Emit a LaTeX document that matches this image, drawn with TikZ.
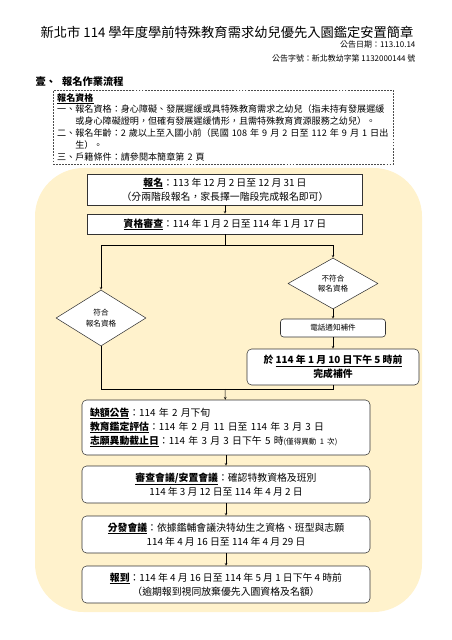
\documentclass[tikz,border=0pt]{standalone}
\usepackage{fontspec}
\setmainfont{Noto Sans CJK TC}
\usepackage{tikz}
\usetikzlibrary{shapes.geometric, arrows.meta, positioning, calc}
\definecolor{flowbg}{RGB}{255,242,204}
\newcommand{\pxu}{0.0464cm}
\newcommand{\keyterm}[1]{\underline{\textbf{#1}}}
\tikzstyle{flatbox} = [rectangle, draw=black!80, fill=white, line width=0.7pt, align=center, inner sep=0pt, font=\fontsize{13}{18.5}\selectfont]
\tikzstyle{roundbox} = [flatbox, rounded corners=6pt]
\tikzstyle{decision} = [diamond, draw=black!80, fill=white, line width=0.7pt, aspect=1.7, inner sep=0pt, align=center, font=\fontsize{10}{14}\selectfont]
\tikzstyle{notebox} = [rectangle, draw=black!70, dash pattern=on 2.5pt off 1.5pt, line width=0.6pt, align=left, inner xsep=4*\pxu, inner ysep=3*\pxu, font=\fontsize{12}{15.6}\selectfont]
\tikzstyle{arrow} = [line width=0.6pt,->,>=stealth]
\tikzstyle{link} = [line width=0.6pt]

\begin{document}
\begin{tikzpicture}[x=\pxu, y=-\pxu]
    \useasboundingbox (0,0) rectangle (452,640);
    % Header
    \node (title) [font=\fontsize{17.5}{20}\selectfont] at (227,32) {新北市 114 學年度學前特殊教育需求幼兒優先入園鑑定安置簡章};
    \node (date) [anchor=east, font=\fontsize{10.5}{12}\selectfont] at (418,45) {公告日期：113.10.14};
    \node (docno) [anchor=east, font=\fontsize{10.5}{12}\selectfont] at (418,58) {公告字號：新北教幼字第 1132000144 號};
    \node (section) [anchor=west, font=\fontsize{13.5}{16}\selectfont\bfseries] at (33,82) {壹、\hspace{8pt}報名作業流程};
    \node (req) [notebox, anchor=north west, text width=332*\pxu] at (53,90) {%
        \keyterm{報名資格}\\
        一、報名資格：身心障礙、發展遲緩或具特殊教育需求之幼兒（指未持有發展遲緩\\
        \hspace*{2em}或身心障礙證明，但確有發展遲緩情形，且需特殊教育資源服務之幼兒）。\\
        二、報名年齡：2 歲以上至入國小前（民國 108 年 9 月 2 日至 112 年 9 月 1 日出\\
        \hspace*{2em}生）。\\
        三、戶籍條件：請參閱本簡章第 2 頁};

    % Background
    \fill [flowbg, rounded corners=64pt] (35,168) rectangle (422,612);

    % Nodes
    \node (signup) [flatbox, minimum width=275*\pxu, minimum height=31*\pxu] at (225,189.5) {\keyterm{報名}：113 年 12 月 2 日至 12 月 31 日\\（分兩階段報名，家長擇一階段完成報名即可）};
    \node (review) [flatbox, minimum width=275*\pxu, minimum height=20*\pxu] at (225,224) {\keyterm{資格審查}：114 年 1 月 2 日至 114 年 1 月 17 日};
    \coordinate (split) at (225,245);
    \node (notok) [decision, minimum width=90*\pxu, minimum height=51*\pxu] at (333,283.5) {不符合\\報名資格};
    \node (ok) [decision, minimum width=90*\pxu, minimum height=56*\pxu] at (101,318) {符合\\報名資格};
    \node (phone) [roundbox, rounded corners=4pt, minimum width=105*\pxu, minimum height=18*\pxu, font=\fontsize{10}{12}\selectfont] at (333,328) {電話通知補件};
    \node (supply) [roundbox, minimum width=172*\pxu, minimum height=36*\pxu, font=\fontsize{13}{18.5}\selectfont\bfseries] at (333,367) {於 \underline{114 年 1 月 10 日下午 5 時前}\\完成補件};
    \coordinate (merge) at (225,389);
    \node (vacancy) [roundbox, minimum width=288*\pxu, minimum height=55*\pxu, text width=272*\pxu, align=left] at (226,427.5) {\keyterm{缺額公告}：114 年 2 月下旬\\\keyterm{教育鑑定評估}：114 年 2 月 11 日至 114 年 3 月 3 日\\\keyterm{志願異動截止日}：114 年 3 月 3 日下午 5 時{\fontsize{10}{12}\selectfont(僅得異動 1 次)}};
    \node (meeting) [roundbox, minimum width=288*\pxu, minimum height=37*\pxu] at (226,484.5) {\keyterm{審查會議/安置會議}：確認特教資格及班別\\114 年 3 月 12 日至 114 年 4 月 2 日};
    \node (assign) [roundbox, minimum width=288*\pxu, minimum height=37*\pxu] at (226,534.5) {\keyterm{分發會議}：依據鑑輔會議決特幼生之資格、班型與志願\\114 年 4 月 16 日至 114 年 4 月 29 日};
    \node (report) [roundbox, minimum width=288*\pxu, minimum height=37*\pxu] at (226,584.5) {\keyterm{報到}：114 年 4 月 16 日至 114 年 5 月 1 日下午 4 時前\\（逾期報到視同放棄優先入園資格及名額）};

    % Arrows
    \draw [arrow] (signup) -- (review);
    \draw [link] (review) -- (split);
    \draw [arrow] (split) -| (notok);
    \draw [arrow] (split) -| (ok);
    \draw [arrow] (notok) -- (phone);
    \draw [arrow] (phone) -- (supply);
    \draw [link] (ok) |- (merge);
    \draw [link] (supply) |- (merge);
    \draw [arrow] (merge) -- (vacancy);
    \draw [arrow] (vacancy) -- (meeting);
    \draw [arrow] (meeting) -- (assign);
    \draw [arrow] (assign) -- (report);
\end{tikzpicture}
\end{document}
